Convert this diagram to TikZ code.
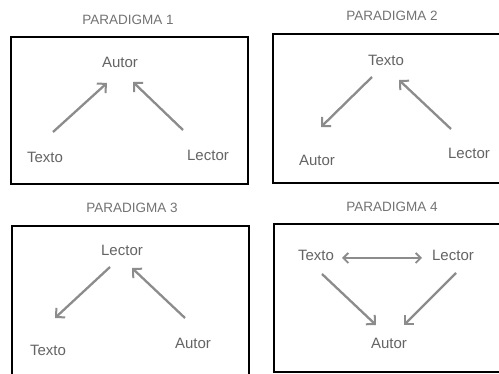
\documentclass[tikz,border=0pt]{standalone}
\usepackage{fontspec}
\setmainfont{Liberation Sans}
\usetikzlibrary{arrows.meta}
\definecolor{txtgray}{RGB}{100,100,100}
\definecolor{ttlgray}{RGB}{115,115,115}
\definecolor{arrgray}{RGB}{140,140,140}
\begin{document}
\begin{tikzpicture}[x=1pt,y=-1pt,
  lbl/.style={inner sep=0pt,text=txtgray,font=\fontsize{15}{17}\selectfont},
  ttl/.style={inner sep=0pt,text=ttlgray,font=\fontsize{13.5}{15}\selectfont},
  frame/.style={draw=black,line width=1.6pt},
  arr/.style={draw=arrgray,line width=2.3pt,-{Straight Barb[length=6.5pt,width=13pt,line width=2pt]}},
  darr/.style={draw=arrgray,line width=2pt,{Straight Barb[length=5pt,width=10pt,line width=1.8pt]}-{Straight Barb[length=5pt,width=10pt,line width=1.8pt]}}]
\useasboundingbox (0,0) rectangle (499,374);
\fill[white] (0,0) rectangle (499,374);
% frames
\draw[frame] (11,37) rectangle (248,184);
\draw[frame] (273,34) rectangle (505,183);
\draw[frame] (12,378) -- (12,226) -- (249,226) -- (249,378);
\draw[frame] (274,224) rectangle (505,372);
% titles
\node[ttl] (t1) at (128,20) {PARADIGMA 1};
\node[ttl] (t2) at (392,16) {PARADIGMA 2};
\node[ttl] (t3) at (132,208) {PARADIGMA 3};
\node[ttl] (t4) at (392,207) {PARADIGMA 4};
% paradigm 1
\node[lbl] (a1) at (120,62) {Autor};
\node[lbl] (x1) at (45,157) {Texto};
\node[lbl] (l1) at (208,155) {Lector};
\coordinate (x1s) at (53,132); \coordinate (a1e) at (107,83);
\coordinate (l1s) at (183,130); \coordinate (a1f) at (133,82);
\draw[arr] (x1s) -- (a1e);
\draw[arr] (l1s) -- (a1f);
% paradigm 2
\node[lbl] (x2) at (386,60) {Texto};
\node[lbl] (a2) at (317,160) {Autor};
\node[lbl] (l2) at (469,153) {Lector};
\coordinate (x2s) at (372,77); \coordinate (a2e) at (321,127);
\coordinate (l2s) at (451,129); \coordinate (x2e) at (399,80);
\draw[arr] (x2s) -- (a2e);
\draw[arr] (l2s) -- (x2e);
% paradigm 3
\node[lbl] (l3) at (122,250) {Lector};
\node[lbl] (x3) at (48,350) {Texto};
\node[lbl] (a3) at (193,343) {Autor};
\coordinate (l3s) at (110,267); \coordinate (x3e) at (55,318);
\coordinate (a3s) at (185,318); \coordinate (l3e) at (132,268);
\draw[arr] (l3s) -- (x3e);
\draw[arr] (a3s) -- (l3e);
% paradigm 4
\node[lbl] (x4) at (316,255) {Texto};
\node[lbl] (l4) at (453,255) {Lector};
\node[lbl] (a4) at (389,343) {Autor};
\coordinate (x4r) at (342,258); \coordinate (l4l) at (422,258);
\coordinate (x4s) at (322,274); \coordinate (a4e) at (376,325);
\coordinate (l4s) at (456,273); \coordinate (a4f) at (404,325);
\draw[darr] (x4r) -- (l4l);
\draw[arr] (x4s) -- (a4e);
\draw[arr] (l4s) -- (a4f);
\end{tikzpicture}
\end{document}
